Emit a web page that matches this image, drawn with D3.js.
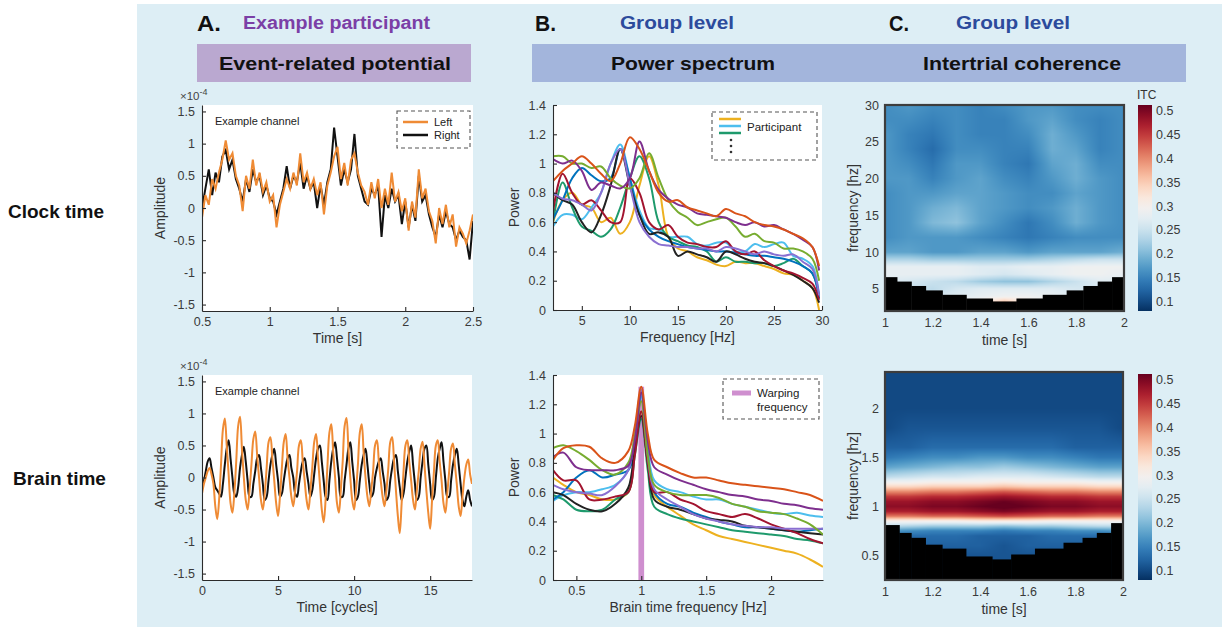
<!DOCTYPE html>
<html>
<head>
<meta charset="utf-8">
<script src="https://cdn.jsdelivr.net/npm/d3@7"></script>
<style>
  body { margin: 0; background: #fff; }
  svg { display: block; font-family: "Liberation Sans", Arial, sans-serif; }
  .axis .domain, .axis line { stroke: #2b2b2b; stroke-width: 1.1; }
  .axis text { fill: #3a3a3a; font-size: 12.5px; font-family: "Liberation Sans", Arial, sans-serif; }
  .lbl { fill: #333; font-size: 14px; }
</style>
</head>
<body>
<svg id="fig" width="1227" height="627"></svg>
<script>
// ---------------- data ----------------

// A. Event-related potential, example channel (x 1e-4)
// clock time: samples every 25 ms from 0.5 s to 2.5 s
const erpClockLeft = [-0.15,0.2,0.05,0.45,0.3,0.55,0.75,1.05,0.75,0.85,0.5,0.35,-0.05,0.5,0.3,0.75,0.35,0.55,0.25,0.4,
  0.1,0.2,-0.3,0.05,0.25,0.45,0.3,0.55,0.35,0.85,0.4,0.55,0.3,0.45,0.2,0.4,-0.1,0.35,0.55,0.8,
  0.95,0.45,0.7,0.35,0.75,0.85,0.55,0.35,0.25,0.05,0.4,0.15,0.45,0.0,0.3,0.05,0.55,0.1,0.25,-0.05,
  0.15,-0.35,0.1,-0.15,0.6,0.15,0.3,-0.05,-0.2,-0.55,0.0,-0.25,0.05,-0.3,-0.1,-0.6,-0.3,-0.4,-0.55,-0.35,-0.1];
const erpClockRight = [0.0,0.3,0.6,0.2,0.55,0.4,0.8,0.9,0.6,0.75,0.45,0.3,0.1,0.45,0.25,0.6,0.4,0.5,0.2,0.35,
  0.15,0.1,-0.1,0.1,0.3,0.65,0.3,0.5,0.4,0.7,0.3,0.5,0.3,0.4,0.0,0.35,0.05,0.4,0.6,1.25,
  0.8,0.35,0.6,0.4,0.6,1.15,0.5,0.3,0.1,0.05,0.3,0.2,0.35,-0.45,0.2,0.0,0.3,0.1,0.2,-0.25,
  0.1,-0.3,0.05,-0.2,0.5,0.1,0.2,-0.1,-0.3,-0.45,-0.1,-0.3,-0.05,-0.25,-0.3,-0.5,-0.35,-0.45,-0.5,-0.8,-0.2];
// brain time: samples every 1/8 cycle from 0 to 17.75 cycles
const erpBrainLeft = [
  -0.25,-0.1,0.0,0.1,0.15,0.05,-0.1,-0.45,
  -0.65,-0.35,0.2,0.75,0.92,0.5,0.05,-0.4,
  -0.55,-0.25,0.25,0.8,0.95,0.45,0.0,-0.35,
  -0.5,-0.2,0.2,0.6,0.72,0.35,0.0,-0.35,
  -0.5,-0.25,0.15,0.55,0.63,0.3,-0.05,-0.4,
  -0.6,-0.3,0.15,0.55,0.68,0.3,0.0,-0.3,
  -0.45,-0.2,0.1,0.5,0.58,0.25,-0.05,-0.35,
  -0.5,-0.2,0.15,0.55,0.68,0.3,-0.1,-0.5,
  -0.7,-0.35,0.2,0.7,0.83,0.4,0.0,-0.4,
  -0.55,-0.2,0.25,0.8,0.93,0.45,0.0,-0.35,
  -0.5,-0.2,0.2,0.7,0.83,0.4,0.0,-0.3,
  -0.45,-0.2,0.1,0.5,0.58,0.25,-0.05,-0.3,
  -0.45,-0.2,0.15,0.55,0.63,0.25,-0.2,-0.6,
  -0.87,-0.4,0.1,0.5,0.58,0.25,-0.05,-0.35,
  -0.5,-0.2,0.1,0.45,0.56,0.2,-0.2,-0.55,
  -0.8,-0.35,0.1,0.5,0.58,0.25,-0.05,-0.4,
  -0.55,-0.25,0.1,0.45,0.53,0.2,-0.1,-0.45,
  -0.6,-0.3,0.0,0.2,0.28,0.05,-0.1];
const erpBrainRight = [
  -0.15,-0.05,0.1,0.25,0.3,0.15,0.0,-0.15,
  -0.2,-0.25,-0.3,-0.1,0.2,0.45,0.58,0.3,
  0.0,-0.25,-0.3,-0.15,0.15,0.35,0.48,0.25,
  -0.05,-0.3,-0.3,-0.1,0.1,0.3,0.35,0.15,
  -0.1,-0.35,-0.3,-0.05,0.2,0.35,0.45,0.2,
  -0.05,-0.3,-0.25,-0.05,0.15,0.3,0.35,0.15,
  0.0,-0.25,-0.3,-0.1,0.1,0.25,0.3,0.1,
  -0.1,-0.3,-0.2,0.05,0.3,0.45,0.5,0.25,
  -0.05,-0.3,-0.35,-0.05,0.25,0.45,0.55,0.3,
  0.0,-0.3,-0.3,-0.05,0.2,0.45,0.55,0.25,
  -0.05,-0.35,-0.3,-0.05,0.2,0.35,0.45,0.2,
  -0.1,-0.3,-0.25,0.0,0.15,0.25,0.3,0.1,
  -0.1,-0.35,-0.3,-0.05,0.15,0.3,0.35,0.1,
  -0.15,-0.35,-0.25,0.0,0.25,0.4,0.5,0.2,
  -0.1,-0.35,-0.3,0.0,0.25,0.45,0.5,0.2,
  -0.1,-0.35,-0.3,0.0,0.3,0.45,0.55,0.25,
  -0.05,-0.3,-0.3,-0.05,0.2,0.35,0.45,0.2,
  -0.1,-0.35,-0.45,-0.3,-0.2,-0.35,-0.45];

// B. Power spectra, one line per participant
const clockFreqs = [2,3,4,5,6,7,8,9,10,11,12,13,14,15,16,17,18,19,20,21,22,23,24,25,26,27,28,29,29.7];
const clockPower = {
  yellow:   [0.6,0.75,0.8,0.72,0.7,0.6,0.63,0.52,0.6,0.85,1.05,0.85,0.5,0.42,0.4,0.36,0.34,0.31,0.3,0.33,0.32,0.32,0.3,0.28,0.25,0.24,0.2,0.15,0.0],
  lightblue:[0.57,0.65,0.65,0.62,0.7,0.8,1.0,1.13,0.9,0.68,0.56,0.55,0.5,0.5,0.5,0.45,0.44,0.46,0.46,0.4,0.4,0.45,0.43,0.45,0.46,0.37,0.35,0.3,0.1],
  teal:     [0.6,0.87,0.7,0.57,0.54,0.5,0.55,0.7,0.9,1.05,0.9,0.6,0.5,0.47,0.44,0.43,0.4,0.33,0.36,0.33,0.33,0.32,0.32,0.3,0.32,0.35,0.3,0.25,0.1],
  blue:     [0.62,0.75,0.9,0.97,0.92,0.88,0.9,1.1,0.9,0.65,0.55,0.5,0.47,0.45,0.43,0.42,0.41,0.4,0.4,0.39,0.38,0.37,0.37,0.36,0.35,0.33,0.3,0.25,0.08],
  black:    [0.8,0.75,0.72,0.6,0.53,0.65,0.85,1.1,0.85,0.65,0.52,0.53,0.5,0.37,0.4,0.38,0.36,0.33,0.4,0.38,0.35,0.33,0.32,0.3,0.27,0.24,0.2,0.15,0.05],
  darkred:  [0.67,0.93,0.8,0.72,0.75,0.68,0.6,0.6,0.9,0.8,0.6,0.55,0.58,0.5,0.46,0.45,0.43,0.43,0.47,0.4,0.38,0.4,0.34,0.3,0.27,0.25,0.22,0.18,0.07],
  lavender: [0.8,0.76,0.75,0.72,0.68,0.8,1.0,1.1,0.85,0.6,0.5,0.45,0.44,0.43,0.43,0.42,0.42,0.4,0.43,0.42,0.4,0.38,0.4,0.38,0.37,0.38,0.33,0.28,0.1],
  lime:     [1.05,1.05,1.0,1.0,0.97,0.98,0.9,0.85,0.83,0.9,1.07,0.9,0.75,0.67,0.63,0.58,0.6,0.62,0.63,0.57,0.5,0.52,0.47,0.46,0.42,0.42,0.4,0.35,0.2],
  purple:   [1.03,1.0,1.02,0.95,0.82,0.87,0.85,0.83,0.9,1.15,0.95,0.82,0.76,0.72,0.7,0.66,0.65,0.64,0.63,0.6,0.58,0.6,0.57,0.58,0.55,0.52,0.48,0.43,0.27],
  orange:   [0.88,0.95,1.0,1.05,1.0,0.93,0.88,1.0,1.18,1.1,0.95,0.8,0.74,0.75,0.7,0.68,0.66,0.64,0.69,0.66,0.64,0.6,0.58,0.57,0.55,0.52,0.49,0.43,0.3]
};
const brainFreqs = [0.32,0.4,0.5,0.6,0.7,0.8,0.9,0.95,1.0,1.05,1.1,1.2,1.3,1.4,1.5,1.6,1.7,1.8,1.9,2.0,2.1,2.2,2.3,2.4];
const brainPower = {
  yellow:   [0.7,0.65,0.6,0.58,0.55,0.55,0.6,0.9,1.15,0.8,0.58,0.5,0.44,0.38,0.34,0.3,0.28,0.26,0.24,0.22,0.2,0.18,0.14,0.09],
  lightblue:[0.54,0.58,0.6,0.6,0.62,0.65,0.75,0.95,1.25,0.9,0.68,0.62,0.6,0.57,0.55,0.55,0.52,0.5,0.48,0.46,0.45,0.46,0.44,0.43],
  teal:     [0.58,0.55,0.48,0.47,0.48,0.55,0.6,0.85,1.1,0.75,0.5,0.45,0.42,0.4,0.38,0.36,0.34,0.33,0.32,0.31,0.3,0.28,0.27,0.25],
  blue:     [0.55,0.6,0.7,0.75,0.7,0.72,0.75,0.9,1.28,0.85,0.6,0.52,0.5,0.46,0.43,0.4,0.38,0.36,0.36,0.35,0.34,0.33,0.34,0.35],
  black:    [0.6,0.58,0.52,0.48,0.47,0.52,0.63,0.9,1.12,0.8,0.55,0.5,0.48,0.45,0.42,0.41,0.4,0.37,0.36,0.35,0.34,0.33,0.32,0.31],
  darkred:  [0.75,0.68,0.68,0.55,0.55,0.57,0.6,0.85,1.15,0.8,0.6,0.6,0.55,0.52,0.47,0.45,0.43,0.45,0.42,0.38,0.35,0.32,0.28,0.25],
  lavender: [0.65,0.62,0.6,0.59,0.58,0.64,0.75,1.0,1.3,0.85,0.62,0.55,0.5,0.45,0.42,0.4,0.38,0.37,0.36,0.36,0.35,0.35,0.35,0.35],
  lime:     [0.9,0.92,0.88,0.82,0.75,0.72,0.8,0.98,1.22,0.85,0.65,0.6,0.58,0.58,0.58,0.56,0.52,0.5,0.47,0.46,0.45,0.42,0.38,0.31],
  purple:   [0.84,0.87,0.77,0.75,0.75,0.75,0.78,0.95,1.28,0.95,0.77,0.72,0.68,0.65,0.62,0.6,0.58,0.57,0.55,0.54,0.52,0.51,0.49,0.48],
  orange:   [0.82,0.9,0.92,0.91,0.83,0.8,0.88,1.05,1.32,1.0,0.82,0.77,0.73,0.7,0.7,0.68,0.66,0.65,0.64,0.63,0.62,0.6,0.58,0.54]
};
const participantColors = {
  yellow: "#EDB120", lightblue: "#4DBEEE", teal: "#1E9A6C", blue: "#0072BD", black: "#222222",
  darkred: "#A2142F", lavender: "#8A6FD1", lime: "#77AC30", purple: "#7E2F8E", orange: "#D95319"
};
const warpFrequency = 1.0;
const warpPower = 1.32;

// C. Intertrial coherence (time x frequency), group level
const itcTimes = [1.0,1.1,1.2,1.3,1.4,1.5,1.6,1.7,1.8,1.9,2.0];
const itcClockFreqs = [2,3,4,5,6,7,8,9,10,12,14,16,18,20,22,24,26,28,30];
const itcClock = [
  [0.29,0.29,0.29,0.30,0.32,0.36,0.32,0.30,0.29,0.29,0.29],
  [0.28,0.28,0.28,0.29,0.31,0.38,0.31,0.29,0.28,0.28,0.28],
  [0.26,0.26,0.26,0.27,0.28,0.29,0.29,0.28,0.27,0.26,0.26],
  [0.26,0.25,0.24,0.26,0.27,0.27,0.27,0.27,0.26,0.26,0.26],
  [0.27,0.26,0.25,0.24,0.22,0.21,0.21,0.23,0.25,0.27,0.27],
  [0.28,0.28,0.28,0.28,0.27,0.26,0.27,0.28,0.29,0.29,0.28],
  [0.28,0.28,0.28,0.28,0.27,0.27,0.28,0.28,0.29,0.29,0.29],
  [0.23,0.23,0.22,0.22,0.22,0.22,0.22,0.23,0.24,0.25,0.25],
  [0.18,0.18,0.17,0.17,0.18,0.18,0.17,0.18,0.18,0.18,0.19],
  [0.16,0.17,0.17,0.17,0.16,0.15,0.14,0.15,0.16,0.16,0.16],
  [0.16,0.17,0.20,0.21,0.18,0.16,0.14,0.16,0.19,0.17,0.16],
  [0.16,0.17,0.19,0.20,0.18,0.17,0.16,0.17,0.19,0.17,0.16],
  [0.16,0.17,0.17,0.18,0.18,0.17,0.16,0.16,0.18,0.17,0.16],
  [0.17,0.17,0.15,0.17,0.18,0.16,0.15,0.17,0.19,0.17,0.16],
  [0.17,0.16,0.14,0.17,0.17,0.15,0.14,0.18,0.19,0.16,0.16],
  [0.17,0.15,0.13,0.16,0.16,0.15,0.15,0.19,0.18,0.15,0.16],
  [0.17,0.15,0.14,0.16,0.15,0.15,0.16,0.19,0.17,0.15,0.16],
  [0.16,0.16,0.15,0.16,0.15,0.15,0.17,0.18,0.16,0.15,0.16],
  [0.16,0.17,0.16,0.16,0.15,0.16,0.17,0.17,0.16,0.16,0.16]
];
const itcBrainFreqs = [0.25,0.4,0.5,0.6,0.7,0.75,0.8,0.85,0.9,0.95,1.0,1.05,1.1,1.15,1.2,1.25,1.3,1.4,1.5,1.6,1.8,2.0,2.2,2.4];
const itcBrain = [
  [0.11,0.11,0.11,0.11,0.11,0.11,0.11,0.11,0.11,0.11,0.11],
  [0.11,0.11,0.11,0.11,0.11,0.11,0.11,0.11,0.11,0.11,0.11],
  [0.12,0.12,0.11,0.11,0.11,0.11,0.11,0.11,0.12,0.12,0.12],
  [0.12,0.12,0.12,0.12,0.12,0.11,0.12,0.12,0.12,0.12,0.12],
  [0.14,0.13,0.13,0.13,0.12,0.12,0.12,0.13,0.13,0.13,0.14],
  [0.17,0.16,0.15,0.15,0.15,0.14,0.15,0.15,0.16,0.16,0.17],
  [0.24,0.23,0.22,0.22,0.22,0.21,0.22,0.22,0.23,0.24,0.24],
  [0.30,0.30,0.30,0.30,0.31,0.31,0.31,0.30,0.30,0.30,0.30],
  [0.41,0.41,0.42,0.42,0.43,0.44,0.43,0.42,0.42,0.41,0.41],
  [0.47,0.47,0.48,0.48,0.49,0.50,0.49,0.48,0.48,0.47,0.47],
  [0.49,0.49,0.50,0.50,0.51,0.52,0.51,0.50,0.50,0.49,0.49],
  [0.48,0.48,0.49,0.49,0.50,0.51,0.50,0.49,0.49,0.48,0.48],
  [0.45,0.45,0.46,0.46,0.47,0.48,0.47,0.46,0.46,0.45,0.45],
  [0.40,0.40,0.41,0.41,0.42,0.43,0.42,0.41,0.41,0.40,0.40],
  [0.34,0.34,0.35,0.35,0.35,0.36,0.35,0.35,0.35,0.34,0.34],
  [0.29,0.29,0.30,0.30,0.30,0.31,0.30,0.30,0.30,0.29,0.29],
  [0.24,0.25,0.26,0.26,0.27,0.27,0.27,0.26,0.25,0.24,0.24],
  [0.18,0.19,0.20,0.21,0.21,0.22,0.21,0.20,0.19,0.18,0.18],
  [0.14,0.15,0.16,0.16,0.17,0.17,0.16,0.16,0.15,0.14,0.14],
  [0.12,0.12,0.13,0.13,0.13,0.13,0.13,0.13,0.12,0.12,0.12],
  [0.10,0.11,0.11,0.11,0.11,0.11,0.11,0.11,0.11,0.11,0.10],
  [0.10,0.10,0.10,0.10,0.10,0.10,0.10,0.10,0.10,0.10,0.10],
  [0.10,0.10,0.10,0.10,0.10,0.10,0.10,0.10,0.10,0.10,0.10],
  [0.10,0.10,0.10,0.10,0.10,0.10,0.10,0.10,0.10,0.10,0.10]
];
// cone of influence: time-bin edges and lowest valid frequency per bin
const coiClockEdges = [1.0,1.05,1.11,1.17,1.24,1.34,1.45,1.55,1.66,1.76,1.83,1.89,1.95,2.0];
const coiClockFreq  = [6.6,6.0,5.4,4.8,4.2,3.7,3.3,3.7,4.2,4.8,5.4,6.0,6.6];
const coiBrainEdges = [1.0,1.06,1.11,1.17,1.24,1.34,1.45,1.53,1.63,1.75,1.83,1.89,1.95,2.0];
const coiBrainFreq  = [0.81,0.73,0.68,0.61,0.57,0.49,0.46,0.51,0.57,0.63,0.68,0.73,0.83];
const itcRange = [0.08, 0.512];

// tick values
const ampTicks = [-1.5,-1,-0.5,0,0.5,1,1.5];
const clockTimeTicks = [0.5,1,1.5,2,2.5];
const cycleTicks = [0,5,10,15];
const powerTicks = [0,0.2,0.4,0.6,0.8,1,1.2,1.4];
const clockFreqTicks = [5,10,15,20,25,30];
const brainFreqTicks = [0.5,1,1.5,2];
const itcTimeTicks = [1,1.2,1.4,1.6,1.8,2];
const itcClockFreqTicks = [5,10,15,20,25,30];
const itcBrainFreqTicks = [0.5,1,1.5,2];
const itcBarTicks = [0.1,0.15,0.2,0.25,0.3,0.35,0.4,0.45,0.5];

// ---------------- drawing ----------------
const svg = d3.select("#fig");
const fmt = d => String(d);

// backdrop
svg.append("rect").attr("x", 137).attr("y", 4).attr("width", 1085).attr("height", 623).attr("fill", "#ddeef5");

// header
const narrow = '"Liberation Sans Narrow", "Arial Narrow", "Liberation Sans", Arial, sans-serif';
function headText(x, y, str, size, color, len) {
  const t = svg.append("text").attr("x", x).attr("y", y).text(str)
    .attr("font-family", narrow).attr("font-weight", "bold").attr("font-size", size).attr("fill", color);
  if (len) t.attr("textLength", len).attr("lengthAdjust", "spacingAndGlyphs");
  return t;
}
headText(197, 31, "A.", 22, "#111", 24);
headText(243, 29, "Example participant", 18, "#7B3FA6", 187);
headText(535, 31, "B.", 22, "#111", 21);
headText(620, 29, "Group level", 18, "#2C4B9C", 114);
headText(889, 31, "C.", 22, "#111", 20);
headText(956, 29, "Group level", 18, "#2C4B9C", 114);
svg.append("rect").attr("x", 197).attr("y", 44).attr("width", 274).attr("height", 38).attr("fill", "#baa8d0");
svg.append("rect").attr("x", 532).attr("y", 44).attr("width", 654).attr("height", 38).attr("fill", "#a3b5dc");
headText(219, 70, "Event-related potential", 19, "#111", 232);
headText(611, 70, "Power spectrum", 19, "#111", 164);
headText(923, 70, "Intertrial coherence", 19, "#111", 198);

// row labels
svg.append("text").attr("x", 8).attr("y", 218).text("Clock time").attr("font-weight", "bold").attr("font-size", 19).attr("fill", "#111");
svg.append("text").attr("x", 13).attr("y", 485).text("Brain time").attr("font-weight", "bold").attr("font-size", 19).attr("fill", "#111");

let clipId = 0;
function panel(box, xDom, yDom) {
  const x = d3.scaleLinear().domain(xDom).range([box.l, box.r]);
  const y = d3.scaleLinear().domain(yDom).range([box.b, box.t]);
  const id = "clip" + (clipId++);
  svg.append("clipPath").attr("id", id).append("rect")
    .attr("x", box.l).attr("y", box.t).attr("width", box.r - box.l).attr("height", box.b - box.t);
  return { x, y, box, clip: `url(#${id})` };
}
function lineAxes(p, xTicks, yTicks) {
  const { x, y, box } = p;
  svg.append("g").attr("class", "axis").attr("transform", `translate(0,${box.b})`)
    .call(d3.axisBottom(x).tickValues(xTicks).tickFormat(fmt).tickSizeInner(-4).tickSizeOuter(0).tickPadding(6));
  svg.append("g").attr("class", "axis").attr("transform", `translate(${box.l},0)`)
    .call(d3.axisLeft(y).tickValues(yTicks).tickFormat(fmt).tickSizeInner(-4).tickSizeOuter(0).tickPadding(7));
}
function label(x, y, str, rotate) {
  const t = svg.append("text").attr("class", "lbl").attr("text-anchor", "middle").text(str);
  if (rotate) t.attr("transform", `translate(${x},${y}) rotate(-90)`);
  else t.attr("x", x).attr("y", y);
  return t;
}
function whiteBg(box) {
  svg.append("rect").attr("x", box.l).attr("y", box.t).attr("width", box.r - box.l).attr("height", box.b - box.t).attr("fill", "#fff");
}
function dashedBox(x0, y0, x1, y1) {
  svg.append("rect").attr("x", x0).attr("y", y0).attr("width", x1 - x0).attr("height", y1 - y0)
    .attr("fill", "#fff").attr("stroke", "#555").attr("stroke-width", 1.1).attr("stroke-dasharray", "4,3");
}

// ---- A: ERP ----
function erpPanel(box, times, left, right, xTicks, xLabel, legend) {
  whiteBg(box);
  const p = panel(box, [times[0], times[times.length - 1]], [-1.6, 1.6]);
  const curve = legend ? d3.curveLinear : d3.curveCatmullRom;
  const line = d3.line().x((d, i) => p.x(times[i])).y(d => p.y(d)).curve(curve);
  const g = svg.append("g").attr("clip-path", p.clip);
  g.append("path").datum(right).attr("d", line).attr("fill", "none").attr("stroke", "#111").attr("stroke-width", 2);
  g.append("path").datum(left).attr("d", line).attr("fill", "none").attr("stroke", "#EF8B35").attr("stroke-width", 2);
  lineAxes(p, xTicks, ampTicks);
  svg.append("text").attr("x", box.l + 13).attr("y", box.t + 20).text("Example channel").attr("font-size", 11).attr("fill", "#222");
  const exp = svg.append("text").attr("x", box.l - 22).attr("y", box.t - 5).attr("font-size", 11.5).attr("fill", "#444");
  exp.append("tspan").text("×10");
  exp.append("tspan").attr("dy", -5).attr("font-size", 9).text("-4");
  label(box.l - 37, (box.t + box.b) / 2, "Amplitude", true);
  label((box.l + box.r) / 2, box.b + 32, xLabel);
  if (legend) {
    dashedBox(397, 111, 470, 148);
    [["Left", "#EF8B35", 122], ["Right", "#111", 135]].forEach(([name, c, yy]) => {
      svg.append("line").attr("x1", 403).attr("x2", 428).attr("y1", yy).attr("y2", yy).attr("stroke", c).attr("stroke-width", 2.5);
      svg.append("text").attr("x", 434).attr("y", yy + 4).text(name).attr("font-size", 11).attr("fill", "#222");
    });
  }
}
const clockTimes = erpClockLeft.map((d, i) => 0.5 + i * 0.025);
const cycleTimes = erpBrainLeft.map((d, i) => i * 0.125);
erpPanel({ l: 202, r: 473, t: 105, b: 311 }, clockTimes, erpClockLeft, erpClockRight, clockTimeTicks, "Time [s]", true);
erpPanel({ l: 202, r: 472, t: 375, b: 580 }, cycleTimes, erpBrainLeft, erpBrainRight, cycleTicks, "Time [cycles]", false);

// ---- B: power spectra ----
function spectrumPanel(box, freqs, power, xDom, xTicks, xLabel, extra) {
  whiteBg(box);
  const p = panel(box, xDom, [0, 1.4]);
  const g = svg.append("g").attr("clip-path", p.clip);
  if (extra) extra(p, g);
  const line = d3.line().x((d, i) => p.x(freqs[i])).y(d => p.y(d)).curve(d3.curveCatmullRom.alpha(0.5));
  Object.keys(power).forEach(k => {
    g.append("path").datum(power[k]).attr("d", line).attr("fill", "none")
      .attr("stroke", participantColors[k]).attr("stroke-width", 2);
  });
  lineAxes(p, xTicks, powerTicks);
  label(box.l - 34, (box.t + box.b) / 2, "Power", true);
  label((box.l + box.r) / 2, box.b + 32, xLabel);
  return p;
}
spectrumPanel({ l: 553, r: 822, t: 105, b: 310 }, clockFreqs, clockPower, [2, 30], clockFreqTicks, "Frequency [Hz]");
dashedBox(712, 112, 817, 160);
[["yellow", 119], ["lightblue", 126], ["teal", 133]].forEach(([k, yy]) => {
  svg.append("line").attr("x1", 719).attr("x2", 741).attr("y1", yy).attr("y2", yy)
    .attr("stroke", participantColors[k]).attr("stroke-width", 2.5);
});
svg.append("text").attr("x", 747).attr("y", 131).text("Participant").attr("font-size", 11.5).attr("fill", "#222");
[140, 146, 152].forEach(yy => svg.append("circle").attr("cx", 731).attr("cy", yy).attr("r", 1.3).attr("fill", "#333"));

spectrumPanel({ l: 553, r: 823, t: 375, b: 580 }, brainFreqs, brainPower, [0.32, 2.4], brainFreqTicks, "Brain time frequency [Hz]",
  (p, g) => {
    const half = 0.022;
    g.append("rect").attr("x", p.x(warpFrequency - half)).attr("width", p.x(warpFrequency + half) - p.x(warpFrequency - half))
      .attr("y", p.y(warpPower)).attr("height", p.y(0) - p.y(warpPower)).attr("fill", "#CF8FCF");
  });
dashedBox(723, 379, 819, 419);
svg.append("line").attr("x1", 732).attr("x2", 751).attr("y1", 393).attr("y2", 393).attr("stroke", "#CF8FCF").attr("stroke-width", 5);
svg.append("text").attr("x", 757).attr("y", 397).text("Warping").attr("font-size", 11.5).attr("fill", "#222");
svg.append("text").attr("x", 757).attr("y", 411).text("frequency").attr("font-size", 11.5).attr("fill", "#222");

// ---- C: ITC maps ----
const itcColor = d3.scaleSequential(t => d3.interpolateRdBu(1 - t)).domain(itcRange).clamp(true);

function locate(arr, v) {
  let i = d3.bisectRight(arr, v) - 1;
  i = Math.max(0, Math.min(arr.length - 2, i));
  const f = Math.max(0, Math.min(1, (v - arr[i]) / (arr[i + 1] - arr[i])));
  return [i, f];
}
function itcPanel(box, freqs, grid, yDom, yTicks, coiEdges, coiFreq, barBox, barTitle) {
  const p = panel(box, [1, 2], yDom);
  const w = Math.round(box.r - box.l), h = Math.round(box.b - box.t);
  const cv = document.createElement("canvas");
  cv.width = w; cv.height = h;
  const ctx = cv.getContext("2d");
  const img = ctx.createImageData(w, h);
  for (let py = 0; py < h; py++) {
    const [fi, ff] = locate(freqs, p.y.invert(box.t + py + 0.5));
    for (let px = 0; px < w; px++) {
      const [ti, tf] = locate(itcTimes, p.x.invert(box.l + px + 0.5));
      const v0 = grid[fi][ti] * (1 - tf) + grid[fi][ti + 1] * tf;
      const v1 = grid[fi + 1][ti] * (1 - tf) + grid[fi + 1][ti + 1] * tf;
      const c = d3.rgb(itcColor(v0 * (1 - ff) + v1 * ff));
      const k = (py * w + px) * 4;
      img.data[k] = c.r; img.data[k + 1] = c.g; img.data[k + 2] = c.b; img.data[k + 3] = 255;
    }
  }
  ctx.putImageData(img, 0, 0);
  svg.append("image").attr("href", cv.toDataURL()).attr("x", box.l).attr("y", box.t)
    .attr("width", w).attr("height", h).attr("preserveAspectRatio", "none");
  // cone of influence
  const g = svg.append("g").attr("clip-path", p.clip);
  coiFreq.forEach((f, i) => {
    g.append("rect").attr("x", p.x(coiEdges[i])).attr("width", p.x(coiEdges[i + 1]) - p.x(coiEdges[i]) + 0.5)
      .attr("y", p.y(f)).attr("height", box.b - p.y(f) + 1).attr("fill", "#000");
  });
  svg.append("rect").attr("x", box.l).attr("y", box.t).attr("width", box.r - box.l).attr("height", box.b - box.t)
    .attr("fill", "none").attr("stroke", "#3d3d3d").attr("stroke-width", 2.2);
  svg.append("g").attr("class", "axis").attr("transform", `translate(0,${box.b})`)
    .call(d3.axisBottom(p.x).tickValues(itcTimeTicks).tickFormat(fmt).tickSize(0).tickPadding(7))
    .call(s => s.select(".domain").remove());
  svg.append("g").attr("class", "axis").attr("transform", `translate(${box.l},0)`)
    .call(d3.axisLeft(p.y).tickValues(yTicks).tickFormat(fmt).tickSize(0).tickPadding(6))
    .call(s => s.select(".domain").remove());
  label(box.l - 27, (box.t + box.b) / 2, "frequency [hz]", true);
  label((box.l + box.r) / 2, box.b + 34, "time [s]");

  // colour bar
  const gid = "grad" + clipId++;
  const grad = svg.append("defs").append("linearGradient").attr("id", gid)
    .attr("x1", 0).attr("y1", 1).attr("x2", 0).attr("y2", 0);
  d3.range(0, 1.0001, 0.05).forEach(s => {
    grad.append("stop").attr("offset", s).attr("stop-color", itcColor(itcRange[0] + s * (itcRange[1] - itcRange[0])));
  });
  svg.append("rect").attr("x", barBox.l).attr("y", barBox.t).attr("width", barBox.r - barBox.l)
    .attr("height", barBox.b - barBox.t).attr("fill", `url(#${gid})`);
  const cy = d3.scaleLinear().domain(itcRange).range([barBox.b, barBox.t]);
  svg.append("g").attr("class", "axis").attr("transform", `translate(${barBox.r},0)`)
    .call(d3.axisRight(cy).tickValues(itcBarTicks).tickFormat(fmt).tickSize(0).tickPadding(4))
    .call(s => s.select(".domain").remove());
  if (barTitle) svg.append("text").attr("x", barBox.l - 1).attr("y", barBox.t - 6).text(barTitle).attr("font-size", 12).attr("fill", "#333");
}
itcPanel({ l: 885, r: 1124, t: 105, b: 311 }, itcClockFreqs, itcClock, [2, 30], itcClockFreqTicks,
  coiClockEdges, coiClockFreq, { l: 1138, r: 1152, t: 105, b: 311 }, "ITC");
itcPanel({ l: 885, r: 1123, t: 372, b: 580 }, itcBrainFreqs, itcBrain, [0.25, 2.37], itcBrainFreqTicks,
  coiBrainEdges, coiBrainFreq, { l: 1138, r: 1152, t: 374, b: 580 }, null);
</script>
</body>
</html>
